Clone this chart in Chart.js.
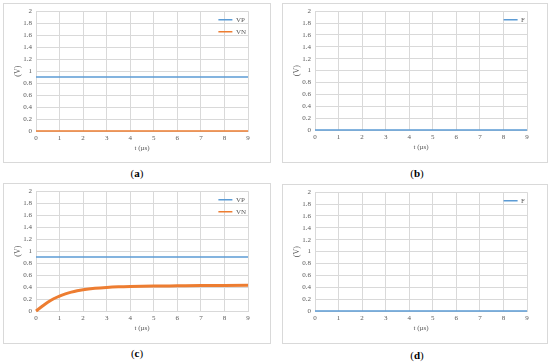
<!DOCTYPE html>
<html>
<head>
<meta charset="utf-8">
<script src="https://cdn.jsdelivr.net/npm/chart.js@4/dist/chart.umd.min.js"></script>
<style>
  html, body { margin: 0; padding: 0; background: #ffffff; }
  body { width: 550px; height: 363px; position: relative; overflow: hidden; }
  .box { position: absolute; border: 1px solid #d9d9d9; box-sizing: border-box; }
  canvas { position: absolute; }
  .lab { position: absolute; font-family: "Liberation Serif", "DejaVu Serif", serif; font-size: 11px; color: #000; transform: translateX(-50%); line-height: 12px; }
  .lab b { font-weight: bold; }
</style>
</head>
<body>
<div class="box" style="left:3px;top:3px;width:268px;height:160px"></div>
<div class="box" style="left:282px;top:3px;width:266px;height:160px"></div>
<div class="box" style="left:3px;top:183px;width:268px;height:161px"></div>
<div class="box" style="left:282px;top:184px;width:266px;height:160px"></div>

<canvas id="ca" width="267" height="159" style="left:3px;top:3px"></canvas>
<canvas id="cb" width="265" height="159" style="left:282px;top:3px"></canvas>
<canvas id="cc" width="267" height="160" style="left:3px;top:183px"></canvas>
<canvas id="cd" width="265" height="159" style="left:282px;top:184px"></canvas>

<div class="lab" style="left:137px;top:167px">(<b>a</b>)</div>
<div class="lab" style="left:417px;top:167px">(<b>b</b>)</div>
<div class="lab" style="left:137px;top:347px">(<b>c</b>)</div>
<div class="lab" style="left:417px;top:349px">(<b>d</b>)</div>

<script>
// ---- data ----
const tFlat = [0, 9];
const vpA = [0.9, 0.9];
const vnA = [0, 0];
const fB = [0, 0];
const tC = [0, 0.25, 0.5, 0.75, 1, 1.25, 1.5, 1.75, 2, 2.5, 3, 3.5, 4, 5, 6, 7, 8, 9];
const vpC = [0.9, 0.9, 0.9, 0.9, 0.9, 0.9, 0.9, 0.9, 0.9, 0.9, 0.9, 0.9, 0.9, 0.9, 0.9, 0.9, 0.9, 0.9];
const vnC = [0, 0.075, 0.145, 0.205, 0.25, 0.285, 0.315, 0.338, 0.355, 0.378, 0.393, 0.403, 0.409, 0.416, 0.42, 0.424, 0.427, 0.43];
const fD = [0, 0];
const xTitle = 't (µs)';
const yTitle = '(V)';

const BLUE = '#5b9bd5';
const ORANGE = '#ed7d31';
const GRID = '#d9d9d9';
const TXT = '#595959';
const FONT = '"Liberation Serif", "DejaVu Serif", serif';

function pts(xs, ys) { return xs.map((x, i) => ({ x: x, y: ys[i] })); }

const legendMover = {
  id: 'legendMover',
  afterLayout(chart) {
    const lg = chart.legend;
    if (!lg) return;
    const ca = chart.chartArea;
    const pad = lg.options.labels.padding;
    let maxW = 0;
    (lg.legendHitBoxes || []).forEach(h => { if (h.width > maxW) maxW = h.width; });
    lg.left = ca.right - 2 - maxW - pad;
    lg.right = ca.right;
    lg.top = ca.top;
  }
};

function makeChart(id, datasets, pad) {
  new Chart(document.getElementById(id), {
    type: 'line',
    data: { datasets: datasets },
    plugins: [legendMover],
    options: {
      responsive: false,
      animation: false,
      devicePixelRatio: 1,
      layout: { padding: pad },
      elements: { point: { radius: 0 }, line: { tension: 0.4, cubicInterpolationMode: 'monotone' } },
      plugins: {
        tooltip: { enabled: false },
        legend: {
          position: 'chartArea',
          align: 'start',
          labels: {
            font: { family: FONT, size: 7 },
            color: TXT,
            usePointStyle: true,
            pointStyle: 'line',
            pointStyleWidth: 14,
            padding: 5,
            generateLabels: (chart) => Chart.defaults.plugins.legend.labels.generateLabels(chart)
              .map(l => Object.assign(l, { lineWidth: 1.5 }))
          }
        }
      },
      scales: {
        x: {
          type: 'linear',
          min: 0, max: 9,
          afterFit(s) { s.height = 21; },
          ticks: { stepSize: 1, font: { family: FONT, size: 7 }, color: TXT, padding: 3, maxRotation: 0 },
          grid: { color: GRID, drawTicks: false, tickLength: 0 },
          border: { color: GRID },
          title: { display: true, text: xTitle, font: { family: FONT, size: 7 }, color: TXT, padding: { top: 2, bottom: 0 } }
        },
        y: {
          min: 0, max: 2,
          afterFit(s) { s.width = 33; },
          ticks: {
            stepSize: 0.2, font: { family: FONT, size: 7 }, color: TXT, padding: 4,
            callback: v => String(Math.round(v * 10) / 10)
          },
          grid: { color: GRID, drawTicks: false, tickLength: 0 },
          border: { color: GRID },
          title: { display: true, text: yTitle, font: { family: FONT, size: 8 }, color: TXT, padding: { top: 10, bottom: 0 } }
        }
      }
    }
  });
}

function ds(label, data, color, width) {
  return { label: label, data: data, borderColor: color, backgroundColor: color, borderWidth: width, clip: 4, pointRadius: 0 };
}

makeChart('ca', [
  ds('VP', pts(tFlat, vpA), BLUE, 1.5),
  ds('VN', pts(tFlat, vnA), ORANGE, 1.5)
], { top: 7, right: 22, bottom: 10, left: 0 });

makeChart('cb', [
  ds('F', pts(tFlat, fB), BLUE, 1.5)
], { top: 7, right: 20, bottom: 11, left: 0 });

makeChart('cc', [
  ds('VP', pts(tC, vpC), BLUE, 1.5),
  ds('VN', pts(tC, vnC), ORANGE, 3)
], { top: 8, right: 22, bottom: 11, left: 0 });

makeChart('cd', [
  ds('F', pts(tFlat, fD), BLUE, 1.5)
], { top: 8, right: 20, bottom: 11, left: 0 });
</script>
</body>
</html>
